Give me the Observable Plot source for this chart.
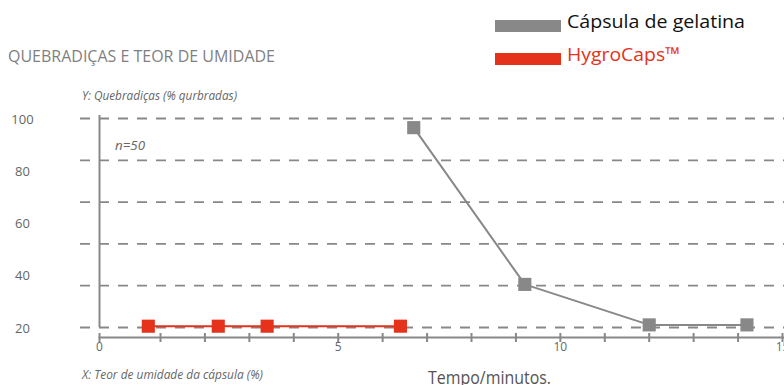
<!DOCTYPE html>
<html>
<head>
<meta charset="utf-8">
<script src="https://cdn.jsdelivr.net/npm/d3@7"></script>
<script src="https://cdn.jsdelivr.net/npm/@observablehq/plot@0.6"></script>
<style>
  html, body { margin: 0; padding: 0; background: #fff; }
  #wrap { position: relative; width: 784px; height: 385px; overflow: hidden; }
  #wrap svg { position: absolute; left: 0; top: 0; }
</style>
</head>
<body>
<div id="wrap"></div>
<script>
// ---- data ----
const seriesNames = ["Cápsula de gelatina", "HygroCaps™"];
const gelatinaTime = [6.7, 9.2, 12.0, 14.2];
const gelatinaBreak = [96.5, 36.5, 21, 21];
const hygroTime = [0.8, 2.3, 3.4, 6.4];
const hygroBreak = [20.5, 20.5, 20.5, 20.5];
const gridValues = [100, 84, 68, 52, 36, 20];
const yTickLabels = [100, 80, 60, 40, 20];
const xMinorTicks = [0, 1, 2, 3, 4, 5, 6, 7, 8, 9, 10, 11, 12, 13, 14, 15];
const xTickLabels = [0, 5, 10, 15];
const titleText = "QUEBRADIÇAS E TEOR DE UMIDADE";
const yTitle = "Y: Quebradiças (% qurbradas)";
const xTitle = "X: Teor de umidade da cápsula (%)";
const nText = "n=50";
const timeText = "Tempo/minutos.";

const GRAY = "#888888";
const RED = "#e5321b";

const gel = gelatinaTime.map((t, i) => ({t, v: gelatinaBreak[i]}));
const hyg = hygroTime.map((t, i) => ({t, v: hygroBreak[i]}));

const chart = Plot.plot({
  width: 784,
  height: 385,
  marginTop: 115,
  marginBottom: 48,
  marginLeft: 80,
  marginRight: 0,
  x: {type: "linear", domain: [0, 1, 15], range: [99, 160, 782], axis: null},
  y: {domain: [20, 100], range: [327, 118], axis: null},
  style: {fontFamily: "'Open Sans', sans-serif", background: "transparent", overflow: "hidden"},
  marks: [
    Plot.ruleY(gridValues, {y: d => d, stroke: GRAY, strokeWidth: 1.8, strokeDasharray: "10,9"}),
    Plot.ruleX([0], {x: d => d, stroke: GRAY, strokeWidth: 2, insetBottom: 10}),
    Plot.frame({anchor: "bottom", stroke: GRAY, strokeWidth: 2, insetLeft: 19}),
    Plot.ruleX(xMinorTicks, {x: d => d, stroke: GRAY, strokeWidth: 2, insetTop: 218, insetBottom: -5}),
    Plot.text(yTickLabels, {y: d => d, text: d => String(d), frameAnchor: "left", dx: -58, dy: 1, textAnchor: "middle", fontSize: 13, fill: "#666"}),
    Plot.text(xTickLabels, {x: d => d, text: d => String(d), frameAnchor: "bottom", dy: 13, fontSize: 12, fill: "#666"}),
    Plot.line(hyg, {x: "t", y: "v", stroke: RED, strokeWidth: 2}),
    Plot.line(gel, {x: "t", y: "v", stroke: GRAY, strokeWidth: 2}),
    Plot.dot(hyg, {x: "t", y: "v", symbol: "square", r: 7.4, fill: RED}),
    Plot.dot(gel, {x: "t", y: "v", symbol: "square", r: 7.4, fill: GRAY})
  ]
});
document.getElementById("wrap").appendChild(chart);

// ---- overlay: title, legend, axis titles ----
const ov = d3.select("#wrap").append("svg")
  .attr("width", 784).attr("height", 385)
  .style("font-family", "'Open Sans', sans-serif");

function label(x, y, txt, size, fill, len, italic) {
  const t = ov.append("text").attr("x", x).attr("y", y)
    .attr("font-size", size).attr("fill", fill).text(txt);
  if (italic) t.attr("font-style", "italic");
  if (len) t.attr("textLength", len).attr("lengthAdjust", "spacingAndGlyphs");
  return t;
}

label(8, 62, titleText, 17, "#7f7f7f", 267);
label(82, 100, yTitle, 12, "#666", 155, true);
label(115, 150, nText, 12, "#666", 30, true);
label(82, 379, xTitle, 12, "#666", 181, true);
label(428, 384, timeText, 18, "#555", 123);

// legend
const legendColors = [GRAY, RED];
const legendTextColors = ["#111", RED];
const legendBaselines = [28, 61];
const legendLens = [178, 113];
seriesNames.forEach((name, i) => {
  ov.append("rect").attr("x", 495).attr("y", legendBaselines[i] - 8)
    .attr("width", 66).attr("height", 12).attr("fill", legendColors[i]);
  label(567, legendBaselines[i], name, 19, legendTextColors[i], legendLens[i]);
});
</script>
</body>
</html>
